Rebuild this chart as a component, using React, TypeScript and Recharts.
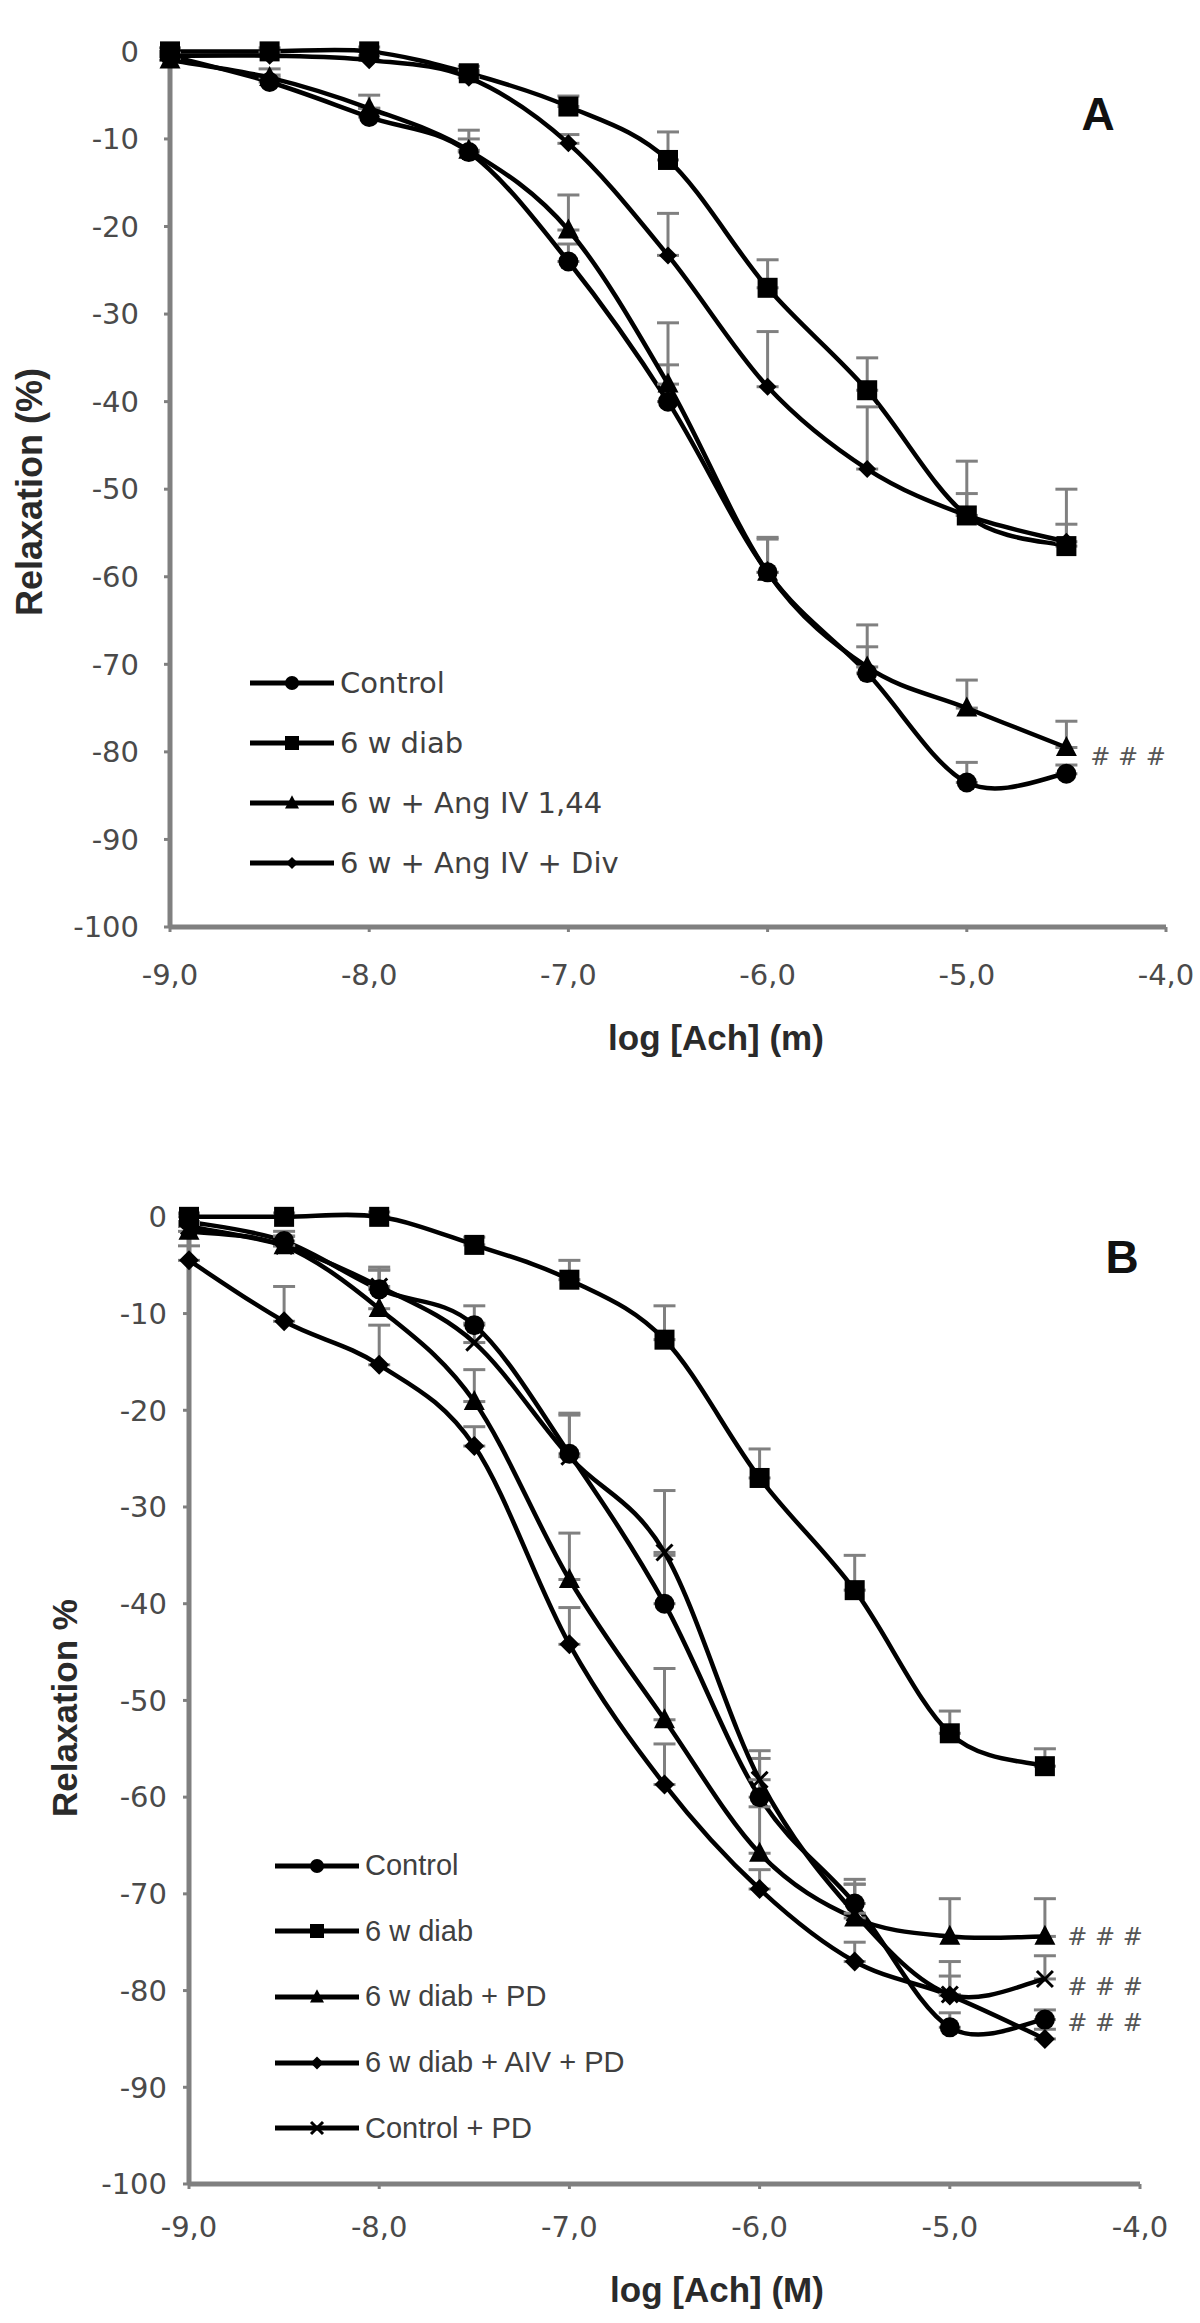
import React from "react";
import { ComposedChart, Line, XAxis, YAxis, ErrorBar, Legend } from "recharts";

// concentrations (log M) shared by both panels
const logAch = [-9, -8.5, -8, -7.5, -7, -6.5, -6, -5.5, -5, -4.5];
const xTicks = [-9, -8, -7, -6, -5, -4];
const yTicks = [0, -10, -20, -30, -40, -50, -60, -70, -80, -90, -100];

// Panel A, mean relaxation and SEM (upper bar only)
const aControl = [-0.5, -3.5, -7.5, -11.5, -24, -40, -59.5, -71, -83.5, -82.5];
const aControlSem = [0.3, 0.8, 1, 1.5, 2, 4.2, 3.8, 3, 2.3, 1];
const aDiab = [0, 0, 0, -2.5, -6.3, -12.4, -27, -38.7, -53, -56.5];
const aDiabSem = [0.4, 0.4, 0.5, 0.8, 1.2, 3.2, 3.2, 3.7, 2.5, 2.5];
const aAng = [-1, -3, -6.5, -11.3, -20.4, -38, -59.5, -70.3, -75, -79.5];
const aAngSem = [0.4, 1, 1.5, 2.3, 4, 7, 4, 4.8, 3.2, 3];
const aDiv = [-0.5, -0.5, -1, -3, -10.5, -23.3, -38.3, -47.7, -53, -56];
const aDivSem = [0.3, 0.4, 0.5, 0.8, 1, 4.8, 6.3, 7.1, 6.2, 6];

// Panel B
const bControl = [-0.5, -2.5, -7.5, -11.2, -24.5, -40, -60, -71, -83.8, -83];
const bControlSem = [0.8, 1, 2, 2, 4, 5, 4, 2.5, 1.5, 1];
const bDiab = [0, 0, 0, -2.9, -6.5, -12.7, -27, -38.6, -53.4, -56.8];
const bDiabSem = [0.4, 0.4, 0.5, 0.8, 2, 3.5, 3, 3.6, 2.3, 1.8];
const bPD = [-1.5, -3, -9.5, -19.1, -37.5, -52, -65.8, -72.5, -74.4, -74.4];
const bPDSem = [0.8, 1, 4, 3.3, 4.8, 5.3, 4.8, 3.5, 3.9, 3.9];
const bAIV = [-4.5, -10.8, -15.3, -23.7, -44.2, -58.7, -69.5, -77, -80.5, -85];
const bAIVSem = [1.5, 3.6, 4.1, 2, 3.8, 4.2, 2, 2, 2, 1];
const bCPD = [-1, -3, -7.2, -13, -24.8, -34.7, -58.2, -72, -80.4, -78.8];
const bCPDSem = [0.5, 1, 2, 2, 4.5, 6.4, 3, 3, 3.4, 2.4];

type Shape = "circle" | "square" | "triangle" | "diamond" | "cross";

interface SeriesDef {
  key: string;
  name: string;
  shape: Shape;
  size: number;
  legendSize: number;
  values: number[];
  sem: number[];
}

const seriesA: SeriesDef[] = [
  { key: "control", name: "Control", shape: "circle", size: 20, legendSize: 14, values: aControl, sem: aControlSem },
  { key: "diab", name: "6 w diab", shape: "square", size: 20, legendSize: 14, values: aDiab, sem: aDiabSem },
  { key: "ang", name: "6 w + Ang IV 1,44", shape: "triangle", size: 21, legendSize: 14, values: aAng, sem: aAngSem },
  { key: "div", name: "6 w + Ang IV + Div", shape: "diamond", size: 18, legendSize: 12, values: aDiv, sem: aDivSem },
];

const seriesB: SeriesDef[] = [
  { key: "control", name: "Control", shape: "circle", size: 20, legendSize: 14, values: bControl, sem: bControlSem },
  { key: "diab", name: "6 w diab", shape: "square", size: 20, legendSize: 14, values: bDiab, sem: bDiabSem },
  { key: "pd", name: "6 w diab + PD", shape: "triangle", size: 21, legendSize: 14, values: bPD, sem: bPDSem },
  { key: "aiv", name: "6 w diab + AIV + PD", shape: "diamond", size: 20, legendSize: 13, values: bAIV, sem: bAIVSem },
  { key: "cpd", name: "Control + PD", shape: "cross", size: 16, legendSize: 12, values: bCPD, sem: bCPDSem },
];

const buildRows = (series: SeriesDef[]) =>
  logAch.map((x, i) => {
    const row: any = { x };
    series.forEach((s) => {
      row[s.key] = s.values[i];
      row[s.key + "Sem"] = [0, s.sem[i]];
    });
    return row;
  });

// excel-like smoothed line (catmull-rom through the points)
const excelSmooth: any = (context: any) => {
  let pts: number[][] = [];
  return {
    areaStart() {},
    areaEnd() {},
    lineStart() {
      pts = [];
    },
    point(x: number, y: number) {
      pts.push([+x, +y]);
    },
    lineEnd() {
      if (!pts.length) return;
      context.moveTo(pts[0][0], pts[0][1]);
      for (let i = 0; i < pts.length - 1; i++) {
        const p0 = pts[Math.max(i - 1, 0)];
        const p1 = pts[i];
        const p2 = pts[i + 1];
        const p3 = pts[Math.min(i + 2, pts.length - 1)];
        context.bezierCurveTo(
          p1[0] + (p2[0] - p0[0]) / 6, p1[1] + (p2[1] - p0[1]) / 6,
          p2[0] - (p3[0] - p1[0]) / 6, p2[1] - (p3[1] - p1[1]) / 6,
          p2[0], p2[1]
        );
      }
    },
  };
};

function Marker({ shape, cx, cy, size }: { shape: Shape; cx: number; cy: number; size: number }) {
  const h = size / 2;
  switch (shape) {
    case "circle":
      return <circle cx={cx} cy={cy} r={h} fill="#000" />;
    case "square":
      return <rect x={cx - h} y={cy - h} width={size} height={size} fill="#000" />;
    case "triangle":
      return <polygon points={`${cx},${cy - h * 1.1} ${cx + h},${cy + h * 0.8} ${cx - h},${cy + h * 0.8}`} fill="#000" />;
    case "diamond":
      return <polygon points={`${cx},${cy - h} ${cx + h},${cy} ${cx},${cy + h} ${cx - h},${cy}`} fill="#000" />;
    default:
      return (
        <g stroke="#000" strokeWidth={3}>
          <line x1={cx - h} y1={cy - h} x2={cx + h} y2={cy + h} />
          <line x1={cx - h} y1={cy + h} x2={cx + h} y2={cy - h} />
        </g>
      );
  }
}

const dotFor = (s: SeriesDef) => (props: any) => {
  const { cx, cy, index } = props;
  if (cx == null || cy == null) return <g key={`${s.key}-${index}`} />;
  return <Marker key={`${s.key}-${index}`} shape={s.shape} cx={cx} cy={cy} size={s.size} />;
};

function LegendRows({ series, rowH, font, fontSize }: { series: SeriesDef[]; rowH: number; font: string; fontSize: number }) {
  return (
    <div>
      {series.map((s) => (
        <div key={s.key} style={{ display: "flex", alignItems: "center", height: rowH }}>
          <svg width={84} height={30} style={{ display: "block" }}>
            <line x1={0} y1={15} x2={84} y2={15} stroke="#000" strokeWidth={5} />
            <Marker shape={s.shape} cx={42} cy={15} size={s.legendSize} />
          </svg>
          <span style={{ marginLeft: 6, fontFamily: font, fontSize, color: "#404040", whiteSpace: "nowrap", lineHeight: 1 }}>
            {s.name}
          </span>
        </div>
      ))}
    </div>
  );
}

const fmtX = (v: number) => v.toFixed(1).replace(".", ",");
const tickFont = { fill: "#4a4a4a", fontSize: 29, fontFamily: "DejaVu Sans" };
const axisGrey = "#808080";

function Panel({
  series, width, height, margin, yAxisW, xAxisH, yTickMargin, xTickMargin, legendPos, legendRowH, legendFont,
}: {
  series: SeriesDef[]; width: number; height: number; margin: any; yAxisW: number; xAxisH: number;
  yTickMargin: number; xTickMargin: number; legendPos: { left: number; top: number }; legendRowH: number; legendFont: string;
}) {
  const rows = buildRows(series);
  return (
    <ComposedChart width={width} height={height} data={rows} margin={margin}>
      <XAxis
        dataKey="x" type="number" domain={[-9, -4]} ticks={xTicks} interval={0} tickFormatter={fmtX}
        height={xAxisH} tick={tickFont} tickSize={5} tickMargin={xTickMargin}
        axisLine={{ stroke: axisGrey, strokeWidth: 5 }} tickLine={{ stroke: axisGrey, strokeWidth: 3 }}
      />
      <YAxis
        type="number" domain={[-100, 0]} ticks={yTicks} interval={0} width={yAxisW}
        tick={tickFont} tickSize={6} tickMargin={yTickMargin}
        axisLine={{ stroke: axisGrey, strokeWidth: 5 }} tickLine={{ stroke: axisGrey, strokeWidth: 3 }}
      />
      <Legend
        layout="vertical" align="center" verticalAlign="middle"
        wrapperStyle={{ left: legendPos.left, top: legendPos.top, width: "auto", height: "auto" }}
        content={() => <LegendRows series={series} rowH={legendRowH} font={legendFont} fontSize={29} />}
      />
      {series.map((s) => (
        <Line
          key={s.key} dataKey={s.key} name={s.name} type={excelSmooth} stroke="#000" strokeWidth={4.5}
          dot={dotFor(s)} activeDot={false} isAnimationActive={false}
        >
          <ErrorBar dataKey={s.key + "Sem"} direction="y" width={11} stroke={axisGrey} strokeWidth={3} isAnimationActive={false} />
        </Line>
      ))}
    </ComposedChart>
  );
}

const txt = (cx: number, cy: number, text: string, style: React.CSSProperties, rotate = false) => (
  <div
    style={{
      position: "absolute", left: cx, top: cy, whiteSpace: "nowrap", lineHeight: 1,
      transform: `translate(-50%, -50%)${rotate ? " rotate(-90deg)" : ""}`, ...style,
    }}
  >
    {text}
  </div>
);

const titleStyle: React.CSSProperties = { fontFamily: "Liberation Sans, Arial, sans-serif", fontWeight: "bold", fontSize: 35, color: "#2a2a2a" };
const letterStyle: React.CSSProperties = { fontFamily: "Liberation Sans, Arial, sans-serif", fontWeight: "bold", fontSize: 46, color: "#111" };
const hashStyle: React.CSSProperties = { fontFamily: "DejaVu Sans", fontSize: 24, color: "#555" };

export default function App() {
  return (
    <div style={{ position: "absolute", left: 0, top: 0, width: 1200, height: 2323, background: "#fff", overflow: "hidden" }}>
      <div style={{ position: "absolute", left: 0, top: 0 }}>
        <Panel
          series={seriesA} width={1200} height={1100}
          margin={{ top: 47, right: 34, bottom: 0, left: 0 }}
          yAxisW={170} xAxisH={173} yTickMargin={25} xTickMargin={32}
          legendPos={{ left: 250, top: 653 }} legendRowH={60} legendFont="DejaVu Sans"
        />
      </div>
      <div style={{ position: "absolute", left: 0, top: 1110 }}>
        <Panel
          series={seriesB} width={1200} height={1213}
          margin={{ top: 102, right: 60, bottom: 0, left: 0 }}
          yAxisW={189} xAxisH={139} yTickMargin={16} xTickMargin={27}
          legendPos={{ left: 275, top: 723 }} legendRowH={65.6} legendFont="Liberation Sans, Arial, sans-serif"
        />
      </div>
      {txt(30, 492, "Relaxation (%)", { ...titleStyle, fontSize: 36 }, true)}
      {txt(716, 1037, "log [Ach] (m)", titleStyle)}
      {txt(1098, 114, "A", letterStyle)}
      {txt(1128, 757, "# # #", hashStyle)}
      {txt(64, 1708, "Relaxation %", titleStyle, true)}
      {txt(717, 2289, "log [Ach] (M)", titleStyle)}
      {txt(1122, 1257, "B", letterStyle)}
      {txt(1105, 1937, "# # #", hashStyle)}
      {txt(1105, 1987, "# # #", hashStyle)}
      {txt(1105, 2023, "# # #", hashStyle)}
    </div>
  );
}
